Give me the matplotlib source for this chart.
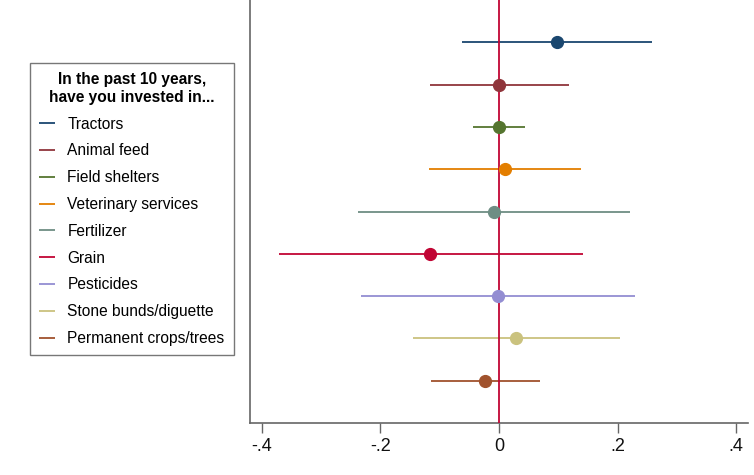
import matplotlib.pyplot as plt
from matplotlib.ticker import FuncFormatter

# Coefficients with 95% confidence intervals
labels = ['Tractors', 'Animal feed', 'Field shelters', 'Veterinary services',
          'Fertilizer', 'Grain', 'Pesticides', 'Stone bunds/diguette',
          'Permanent crops/trees']
coef = [0.098, 0.000, 0.000, 0.010, -0.009, -0.116, -0.001, 0.029, -0.023]
ci_low = [-0.062, -0.116, -0.044, -0.118, -0.238, -0.371, -0.232, -0.145, -0.115]
ci_high = [0.258, 0.118, 0.044, 0.138, 0.221, 0.142, 0.230, 0.204, 0.069]
colors = ['#1a476f', '#90353b', '#55752f', '#e37e00', '#6e8e84',
          '#c10534', '#938dd2', '#cac27e', '#a0522d']
xticks = [-0.4, -0.2, 0, 0.2, 0.4]

plt.rcParams['font.family'] = ['Liberation Sans', 'DejaVu Sans']

fig = plt.figure(figsize=(7.54, 4.75), dpi=100)
ax = fig.add_axes([250 / 754, 1 - 423 / 475, 498 / 754, 423 / 475])

handles = []
for i, lab in enumerate(labels):
    ln, = ax.plot([ci_low[i], ci_high[i]], [i, i], color=colors[i], lw=1.3,
                  solid_capstyle='butt', label=lab, zorder=2)
    ax.plot(coef[i], i, 'o', color=colors[i], ms=8.5, zorder=4)
    handles.append(ln)

ax.axvline(0, color='#c10534', lw=1.3, zorder=3)

ax.set_xlim(-0.42, 0.42)
ax.set_ylim(9, -1)
ax.set_xticks(xticks)
ax.xaxis.set_major_formatter(FuncFormatter(
    lambda v, p: '0' if abs(v) < 1e-9 else ('%.1f' % v).replace('0.', '.')))
ax.set_yticks([])
ax.tick_params(axis='x', direction='out', length=7, width=1, color='#666666',
               labelsize=13, pad=4, labelcolor='#111111')
for s in ['top', 'right']:
    ax.spines[s].set_visible(False)
for s in ['left', 'bottom']:
    ax.spines[s].set_color('#666666')
    ax.spines[s].set_linewidth(1.2)

leg = fig.legend(handles=handles, loc='upper left',
                 bbox_to_anchor=(30 / 754, 1 - 63 / 475),
                 title='In the past 10 years,\nhave you invested in...',
                 title_fontproperties={'weight': 'bold', 'size': 11.2},
                 fontsize=11.2, frameon=True, fancybox=False,
                 handlelength=1.0, handletextpad=0.8, labelspacing=0.76,
                 borderpad=0.6, borderaxespad=0)
leg.get_frame().set_edgecolor('#555555')
leg.get_frame().set_linewidth(1.0)
leg.get_title().set_multialignment('center')

plt.savefig('out.png', dpi=100)
